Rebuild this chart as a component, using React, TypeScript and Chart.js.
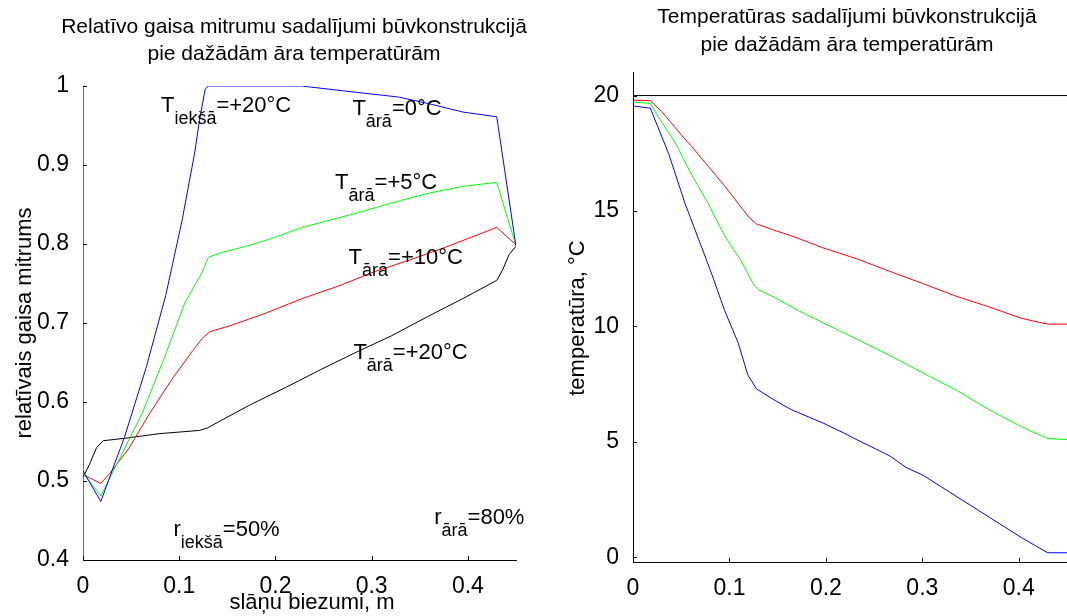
import { useEffect, useRef } from 'react';
import { Chart, registerables } from 'chart.js';

Chart.register(...registerables);

const FONT = "'Liberation Sans', Arial, Helvetica, sans-serif";

// ---------- Left chart: relative humidity ----------
const rhXTicks = [0, 0.1, 0.2, 0.3, 0.4];
const rhYTicks = [0.4, 0.5, 0.6, 0.7, 0.8, 0.9, 1];

const rhBlueX = [0, 0.0185, 0.032, 0.043, 0.066, 0.086, 0.103, 0.116, 0.121, 0.127, 0.13, 0.227, 0.284, 0.328, 0.358, 0.395, 0.43, 0.45];
const rhBlueY = [0.513, 0.474, 0.519, 0.555, 0.645, 0.735, 0.83, 0.915, 0.956, 0.996, 1.0, 1.0, 0.992, 0.986, 0.978, 0.967, 0.961, 0.797];

const rhGreenX = [0, 0.0185, 0.04, 0.062, 0.084, 0.106, 0.123, 0.13, 0.143, 0.166, 0.191, 0.228, 0.284, 0.321, 0.358, 0.395, 0.43, 0.45];
const rhGreenY = [0.51, 0.481, 0.533, 0.587, 0.654, 0.726, 0.762, 0.783, 0.789, 0.796, 0.805, 0.821, 0.839, 0.852, 0.864, 0.873, 0.878, 0.798];

const rhRedX = [0, 0.0185, 0.028, 0.047, 0.069, 0.092, 0.114, 0.125, 0.132, 0.154, 0.191, 0.228, 0.266, 0.303, 0.34, 0.377, 0.43, 0.45];
const rhRedY = [0.508, 0.497, 0.51, 0.54, 0.585, 0.628, 0.665, 0.682, 0.689, 0.697, 0.713, 0.731, 0.747, 0.765, 0.78, 0.796, 0.821, 0.799];

const rhBlackX = [0, 0.006, 0.014, 0.021, 0.043, 0.08, 0.121, 0.129, 0.173, 0.21, 0.247, 0.284, 0.321, 0.358, 0.395, 0.43, 0.436, 0.443, 0.45];
const rhBlackY = [0.505, 0.519, 0.542, 0.551, 0.554, 0.56, 0.564, 0.567, 0.596, 0.618, 0.641, 0.663, 0.684, 0.708, 0.731, 0.754, 0.767, 0.787, 0.797];

const rhTitle = ['Relatīvo gaisa mitrumu sadalījumi būvkonstrukcijā', 'pie dažādām āra temperatūrām'];
const rhXLabel = 'slāņu biezumi, m';
const rhYLabel = 'relatīvais gaisa mitrums';

const rhNotes = [
  { x: 0.081, y: 0.967, main: 'T', sub: 'iekšā', rest: '=+20°C' },
  { x: 0.280, y: 0.963, main: 'T', sub: 'ārā', rest: '=0°C' },
  { x: 0.262, y: 0.870, main: 'T', sub: 'ārā', rest: '=+5°C' },
  { x: 0.276, y: 0.775, main: 'T', sub: 'ārā', rest: '=+10°C' },
  { x: 0.281, y: 0.655, main: 'T', sub: 'ārā', rest: '=+20°C' },
  { x: 0.094, y: 0.430, main: 'r', sub: 'iekšā', rest: '=50%' },
  { x: 0.365, y: 0.446, main: 'r', sub: 'ārā', rest: '=80%' },
];

// ---------- Right chart: temperature ----------
const tXTicks = [0, 0.1, 0.2, 0.3, 0.4];
const tYTicks = [0, 5, 10, 15, 20];

const tBlackX = [0, 0.45];
const tBlackY = [20, 20];

const tRedX = [0, 0.018, 0.022, 0.03, 0.037, 0.051, 0.061, 0.078, 0.095, 0.112, 0.121, 0.128, 0.147, 0.164, 0.198, 0.232, 0.266, 0.301, 0.335, 0.369, 0.403, 0.43, 0.45];
const tRedY = [19.8, 19.78, 19.62, 19.3, 18.95, 18.25, 17.79, 16.94, 16.09, 15.17, 14.7, 14.44, 14.16, 13.93, 13.39, 12.93, 12.39, 11.85, 11.31, 10.85, 10.35, 10.1, 10.1];

const tGreenX = [0, 0.018, 0.027, 0.044, 0.061, 0.078, 0.095, 0.112, 0.126, 0.13, 0.147, 0.171, 0.2, 0.232, 0.266, 0.3, 0.335, 0.369, 0.403, 0.43, 0.45];
const tGreenY = [19.72, 19.66, 19.03, 17.95, 16.56, 15.32, 13.93, 12.85, 11.75, 11.6, 11.25, 10.7, 10.1, 9.45, 8.75, 8.0, 7.25, 6.4, 5.65, 5.15, 5.1];

const tBlueX = [0, 0.018, 0.025, 0.037, 0.054, 0.068, 0.082, 0.095, 0.109, 0.119, 0.128, 0.147, 0.164, 0.198, 0.218, 0.232, 0.266, 0.283, 0.301, 0.335, 0.369, 0.386, 0.403, 0.43, 0.45];
const tBlueY = [19.55, 19.45, 18.72, 17.48, 15.32, 13.78, 12.23, 10.69, 9.3, 7.91, 7.3, 6.8, 6.4, 5.8, 5.4, 5.1, 4.4, 3.9, 3.55, 2.65, 1.75, 1.3, 0.85, 0.2, 0.2];

const tTitle = ['Temperatūras sadalījumi būvkonstrukcijā', 'pie dažādām āra temperatūrām'];
const tYLabel = 'temperatūra, °C';

// ---------- helpers ----------
const W = 1067;
const H = 616;
const fmt = (v: number) => String(parseFloat(Number(v).toFixed(2)));
const pts = (xs: number[], ys: number[]) => xs.map((x, i) => ({ x, y: ys[i] }));
const ds = (xs: number[], ys: number[], color: string) => ({
  data: pts(xs, ys),
  borderColor: color,
  backgroundColor: color,
  borderWidth: 1,
  pointRadius: 0,
  tension: 0,
  fill: false,
});

function drawSub(ctx: CanvasRenderingContext2D, x: number, y: number, main: string, sub: string, rest: string) {
  ctx.textAlign = 'left';
  ctx.textBaseline = 'alphabetic';
  ctx.font = `22px ${FONT}`;
  ctx.fillText(main, x, y);
  let cx = x + ctx.measureText(main).width;
  ctx.font = `18px ${FONT}`;
  ctx.fillText(sub, cx, y + 12);
  cx += ctx.measureText(sub).width;
  ctx.font = `22px ${FONT}`;
  ctx.fillText(rest, cx, y);
}

const inwardTicks = {
  id: 'inwardTicks',
  afterDatasetsDraw(chart: any) {
    const { ctx, chartArea, scales } = chart;
    ctx.save();
    ctx.strokeStyle = '#000';
    ctx.lineWidth = 1;
    for (const t of scales.x.ticks) {
      const px = Math.round(scales.x.getPixelForValue(t.value)) + 0.5;
      ctx.beginPath();
      ctx.moveTo(px, chartArea.bottom);
      ctx.lineTo(px, chartArea.bottom - 4);
      ctx.stroke();
    }
    for (const t of scales.y.ticks) {
      const py = Math.round(scales.y.getPixelForValue(t.value)) + 0.5;
      ctx.beginPath();
      ctx.moveTo(chartArea.left, py);
      ctx.lineTo(chartArea.left + 4, py);
      ctx.stroke();
    }
    ctx.restore();
  },
};

function makeScales(xTicks: number[], yTicks: number[], xMax: number, yMin: number, yMax: number, yAxisColor: string) {
  const tickFont = { family: FONT, size: 23 };
  return {
    x: {
      type: 'linear' as const,
      min: 0,
      max: xMax,
      afterBuildTicks: (s: any) => {
        s.ticks = xTicks.map((v) => ({ value: v }));
      },
      afterFit: (s: any) => {
        s.height = 40;
      },
      grid: { display: false },
      border: { display: true, color: '#000', width: 1 },
      ticks: { font: tickFont, color: '#000', padding: 5, maxRotation: 0, autoSkip: false, callback: (v: any) => fmt(v) },
    },
    y: {
      type: 'linear' as const,
      min: yMin,
      max: yMax,
      afterBuildTicks: (s: any) => {
        s.ticks = yTicks.map((v) => ({ value: v }));
      },
      afterFit: (s: any) => {
        s.width = 60;
      },
      grid: { display: false },
      border: { display: true, color: yAxisColor, width: 1 },
      ticks: { font: tickFont, color: '#000', padding: 6, autoSkip: false, callback: (v: any) => fmt(v) },
    },
  };
}

export default function App() {
  const leftRef = useRef<HTMLCanvasElement | null>(null);
  const rightRef = useRef<HTMLCanvasElement | null>(null);

  useEffect(() => {
    if (!leftRef.current || !rightRef.current) return;

    const leftText = {
      id: 'leftText',
      afterDraw(chart: any) {
        const { ctx, scales } = chart;
        ctx.save();
        ctx.fillStyle = '#000';
        ctx.textAlign = 'center';
        ctx.textBaseline = 'alphabetic';
        ctx.font = `21px ${FONT}`;
        ctx.fillText(rhTitle[0], 294, 33);
        ctx.fillText(rhTitle[1], 294, 60);
        ctx.font = `22px ${FONT}`;
        ctx.fillText(rhXLabel, 312, 609);
        ctx.save();
        ctx.translate(25, 323);
        ctx.rotate(-Math.PI / 2);
        ctx.textBaseline = 'middle';
        ctx.fillText(rhYLabel, 0, 0);
        ctx.restore();
        for (const n of rhNotes) {
          drawSub(ctx, scales.x.getPixelForValue(n.x), scales.y.getPixelForValue(n.y), n.main, n.sub, n.rest);
        }
        ctx.restore();
      },
    };

    const rightText = {
      id: 'rightText',
      afterDraw(chart: any) {
        const { ctx } = chart;
        ctx.save();
        ctx.fillStyle = '#000';
        ctx.textAlign = 'center';
        ctx.textBaseline = 'alphabetic';
        ctx.font = `21px ${FONT}`;
        ctx.fillText(tTitle[0], 847, 23);
        ctx.fillText(tTitle[1], 847, 51);
        ctx.font = `22px ${FONT}`;
        ctx.save();
        ctx.translate(578, 318);
        ctx.rotate(-Math.PI / 2);
        ctx.textBaseline = 'middle';
        ctx.fillText(tYLabel, 0, 0);
        ctx.restore();
        ctx.restore();
      },
    };

    const left = new Chart(leftRef.current, {
      type: 'line',
      data: {
        datasets: [
          ds(rhBlueX, rhBlueY, '#0000ff'),
          ds(rhGreenX, rhGreenY, '#00ff00'),
          ds(rhRedX, rhRedY, '#ff0000'),
          ds(rhBlackX, rhBlackY, '#000000'),
        ],
      },
      options: {
        responsive: false,
        animation: false,
        devicePixelRatio: 1,
        layout: { padding: { left: 23, right: W - 516, top: 86, bottom: H - 560 - 40 } },
        plugins: { legend: { display: false }, tooltip: { enabled: false }, title: { display: false } },
        scales: makeScales(rhXTicks, rhYTicks, 0.45, 0.4, 1.0, '#707070') as any,
      },
      plugins: [inwardTicks, leftText],
    });

    const right = new Chart(rightRef.current, {
      type: 'line',
      data: {
        datasets: [
          ds(tBlackX, tBlackY, '#000000'),
          ds(tRedX, tRedY, '#ff0000'),
          ds(tGreenX, tGreenY, '#00ff00'),
          ds(tBlueX, tBlueY, '#0000ff'),
        ],
      },
      options: {
        responsive: false,
        animation: false,
        devicePixelRatio: 1,
        layout: { padding: { left: 633 - 60, right: 0, top: 72, bottom: H - 562 - 40 } },
        plugins: { legend: { display: false }, tooltip: { enabled: false }, title: { display: false } },
        scales: makeScales(tXTicks, tYTicks, 0.45, -0.2, 21.02, '#000') as any,
      },
      plugins: [inwardTicks, rightText],
    });

    return () => {
      left.destroy();
      right.destroy();
    };
  }, []);

  return (
    <div style={{ position: 'absolute', left: 0, top: 0, width: W, height: H, background: '#fff', overflow: 'hidden' }}>
      <canvas ref={leftRef} width={W} height={H} style={{ position: 'absolute', left: 0, top: 0 }} />
      <canvas ref={rightRef} width={W} height={H} style={{ position: 'absolute', left: 0, top: 0 }} />
    </div>
  );
}
